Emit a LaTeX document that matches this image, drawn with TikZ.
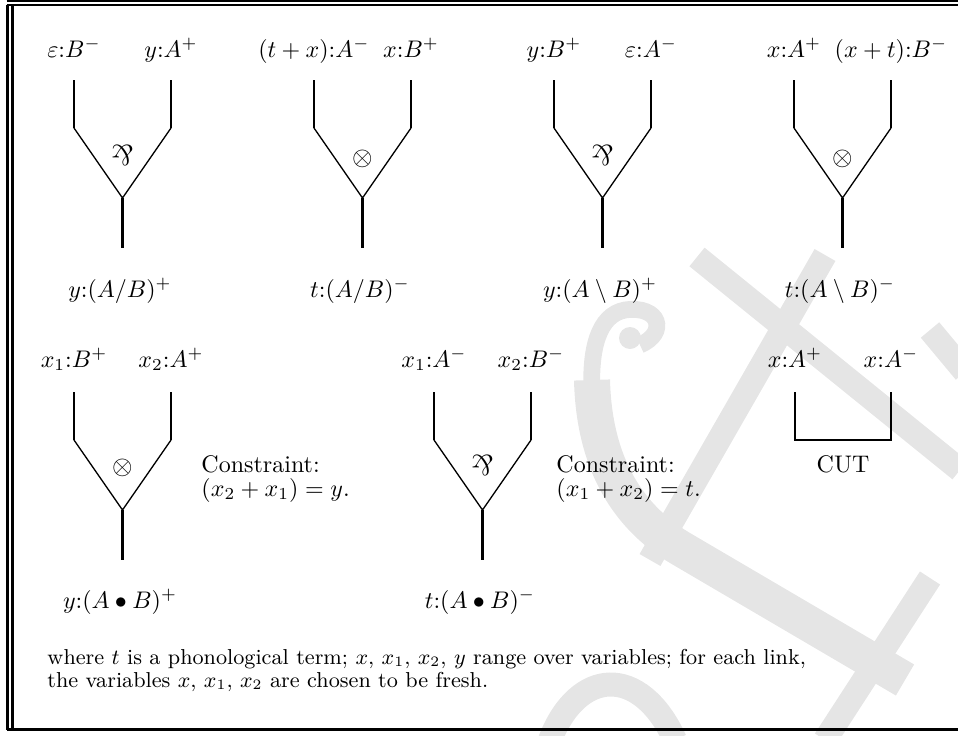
\documentclass[tikz,border=0pt]{standalone}
\usepackage{amsmath}
\begin{document}
\begin{tikzpicture}[x=0.41667pt,y=-0.41667pt,
  wire/.style={line width=0.85pt},
  diag/.style={line width=0.55pt},
  frameline/.style={line width=0.85pt},
  lbl/.style={anchor=base,inner sep=0pt},
  sym/.style={inner sep=0pt},
  txt/.style={anchor=base west,inner sep=0pt},
  wm/.style={draw=black!10,line cap=butt},
  ylink/.pic={
    \coordinate (-tl) at (0,0);
    \coordinate (-bl) at (0,48);
    \coordinate (-v) at (48.5,118);
    \coordinate (-s) at (48.5,168);
    \coordinate (-br) at (97,48);
    \coordinate (-tr) at (97,0);
    \draw[wire] (-tl) -- (-bl);
    \draw[wire] (-tr) -- (-br);
    \draw[diag] (-bl) -- (-v) -- (-br);
    \draw[wire] (-v) -- (-s);
  }]
\useasboundingbox (0,0) rectangle (958,735);
% watermark
\begin{scope}
\clip (0,0) rectangle (958,735);
\draw[wm,line width=10pt] (697,257) -- (960,470);
\draw[wm,line width=10pt] (825,255) -- (650,560);
\draw[wm,line width=7pt] (640,345) .. controls (668,333) and (660,305) .. (625,310) .. controls (598,315) and (590,350) .. (592,392);
\draw[wm,line width=15pt] (592,380) .. controls (594,460) and (625,515) .. (680,548) -- (905,680);
\fill[black!10] (630,338) circle[radius=11];
\draw[wm,line width=10pt] (930,578) -- (825,740);
\draw[wm,line width=10pt] (550,740) .. controls (578,668) and (640,664) .. (675,740);
\draw[wm,line width=10pt] (930,330) -- (965,372);
\end{scope}
% frame
\draw[frameline] (6.5,1) -- (960,1);
\draw[frameline] (6.5,5) -- (960,5);
\draw[frameline] (7.5,5) -- (7.5,729.5);
\draw[frameline] (12.5,5) -- (12.5,729.5);
\draw[frameline] (6.5,729.5) -- (960,729.5);
% top row
\pic (L1) at (74,80) {ylink};
\pic (L2) at (314,80) {ylink};
\pic (L3) at (554,80) {ylink};
\pic (L4) at (794,80) {ylink};
\node[lbl] (L1a) at (74,57) {$\varepsilon{:}B^-$};
\node[lbl] (L1b) at (171,57) {$y{:}A^+$};
\node[lbl] (L1c) at (120,297) {$y{:}(A/B)^+$};
\node[sym,rotate=180,scale=1.2] (L1s) at (122.5,155) {\&};
\node[lbl] (L2a) at (314,57) {$(t+x){:}A^-$};
\node[lbl] (L2b) at (411,57) {$x{:}B^+$};
\node[lbl] (L2c) at (360,297) {$t{:}(A/B)^-$};
\node[sym,scale=1.1] (L2s) at (362.5,159) {$\otimes$};
\node[lbl] (L3a) at (554,57) {$y{:}B^+$};
\node[lbl] (L3b) at (651,57) {$\varepsilon{:}A^-$};
\node[lbl] (L3c) at (600,297) {$y{:}(A\setminus B)^+$};
\node[sym,rotate=180,scale=1.2] (L3s) at (602.5,155) {\&};
\node[lbl] (L4a) at (794,57) {$x{:}A^+$};
\node[lbl] (L4b) at (891,57) {$(x+t){:}B^-$};
\node[lbl] (L4c) at (840,297) {$t{:}(A\setminus B)^-$};
\node[sym,scale=1.1] (L4s) at (842.5,159) {$\otimes$};
% bottom row
\pic (L5) at (74,392) {ylink};
\pic (L6) at (434,392) {ylink};
\node[lbl] (L5a) at (74,367) {$x_1{:}B^+$};
\node[lbl] (L5b) at (171,367) {$x_2{:}A^+$};
\node[lbl] (L5c) at (120,608) {$y{:}(A\bullet B)^+$};
\node[sym,scale=1.1] (L5s) at (122.5,468) {$\otimes$};
\node[txt] (C5a) at (201,472) {Constraint:};
\node[txt] (C5b) at (201,496) {$(x_2+x_1)=y$.};
\node[lbl] (L6a) at (434,367) {$x_1{:}A^-$};
\node[lbl] (L6b) at (531,367) {$x_2{:}B^-$};
\node[lbl] (L6c) at (480,608) {$t{:}(A\bullet B)^-$};
\node[sym,rotate=180,scale=1.2] (L6s) at (482.5,465) {\&};
\node[txt] (C6a) at (556,472) {Constraint:};
\node[txt] (C6b) at (556,496) {$(x_1+x_2)=t$.};
% cut
\coordinate (K1) at (795,392);
\coordinate (K2) at (795,440);
\coordinate (K3) at (891,440);
\coordinate (K4) at (891,392);
\draw[wire] (K1) -- (K2) -- (K3) -- (K4);
\node[lbl] (Ka) at (795,367) {$x{:}A^+$};
\node[lbl] (Kb) at (891,367) {$x{:}A^-$};
\node[lbl] (Kc) at (843,472) {CUT};
% footer
\node[txt,font=\small] (F1) at (47,664) {where $t$ is a phonological term; $x$, $x_1$, $x_2$, $y$ range over variables; for each link,};
\node[txt,font=\small] (F2) at (47,687) {the variables $x$, $x_1$, $x_2$ are chosen to be fresh.};
\end{tikzpicture}
\end{document}
